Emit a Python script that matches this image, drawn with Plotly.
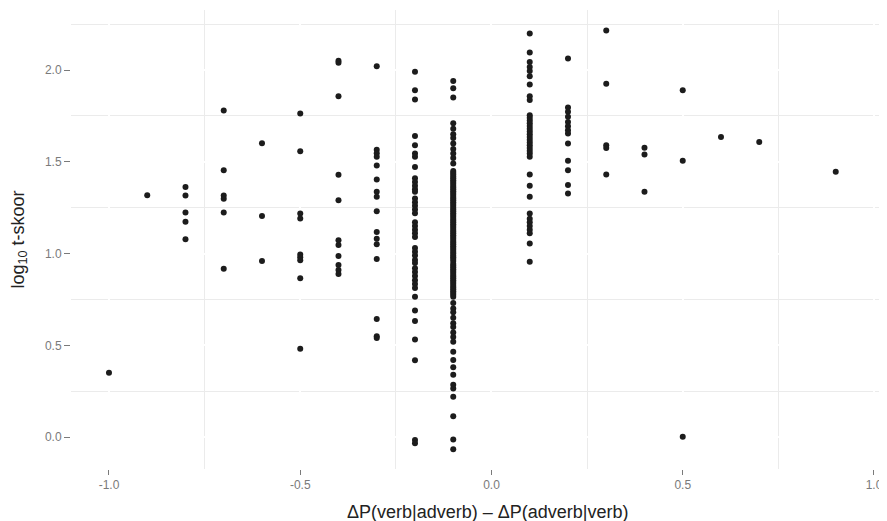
import plotly.graph_objects as go

# x positions of the point columns (ΔP difference)
x_cols = [-1.0, -0.9, -0.8, -0.7, -0.6, -0.5, -0.4, -0.3, -0.2, -0.1,
          0.1, 0.2, 0.3, 0.4, 0.5, 0.6, 0.7, 0.9]

# log10 t-scores per column
y_m10 = [0.35]
y_m09 = [1.318]
y_m08 = [1.362, 1.316, 1.224, 1.173, 1.078]
y_m07 = [1.779, 1.454, 1.316, 1.298, 1.224, 0.917]
y_m06 = [1.601, 1.205, 0.959]
y_m05 = [1.763, 1.558, 1.218, 1.191, 0.995, 0.98, 0.964, 0.866, 0.481]
y_m04 = [2.05, 2.04, 1.857, 1.429, 1.291, 1.073, 1.046, 0.986, 0.937, 0.91, 0.888]
y_m03 = [2.02, 1.565, 1.547, 1.527, 1.48, 1.404, 1.336, 1.31, 1.23, 1.118, 1.08,
         1.05, 0.97, 0.643, 0.55, 0.54]
y_m02 = [1.99, 1.89, 1.84, 1.64, 1.59, 1.545, 1.527, 1.472, 1.41, 1.39, 1.37, 1.35,
         1.336, 1.30, 1.28, 1.26, 1.24, 1.22, 1.17, 1.15, 1.13, 1.11, 1.09, 1.03,
         1.01, 0.99, 0.965, 0.948, 0.92, 0.90, 0.877, 0.855, 0.834, 0.812, 0.764,
         0.69, 0.633, 0.532, 0.419, -0.016, -0.034]
y_m01 = [1.94, 1.90, 1.85, 1.71, 1.68, 1.65, 1.63, 1.60, 1.57, 1.545, 1.52, 1.49,
         1.45, 1.44, 1.43, 1.42, 1.41, 1.40, 1.39, 1.38, 1.37, 1.36, 1.35, 1.34,
         1.33, 1.32, 1.31, 1.30, 1.29, 1.28, 1.27, 1.26, 1.25, 1.24, 1.23, 1.22,
         1.21, 1.20, 1.19, 1.18, 1.17, 1.16, 1.15, 1.14, 1.13, 1.12, 1.11, 1.10,
         1.09, 1.08, 1.07, 1.06, 1.05, 1.04, 1.03, 1.02, 1.01, 1.00, 0.99, 0.98,
         0.97, 0.96, 0.945, 0.935, 0.925, 0.915, 0.905, 0.895, 0.885, 0.875, 0.865,
         0.855, 0.845, 0.835, 0.825, 0.815, 0.805, 0.795, 0.785, 0.775, 0.765,
         0.73, 0.70, 0.68, 0.65, 0.62, 0.60, 0.57, 0.545, 0.52, 0.465, 0.42, 0.38,
         0.34, 0.285, 0.265, 0.22, 0.114, -0.013, -0.067]
y_p01 = [2.199, 2.095, 2.044, 2.017, 1.995, 1.966, 1.921, 1.857, 1.836,
         1.754, 1.74, 1.725, 1.71, 1.695, 1.68, 1.665, 1.65, 1.635, 1.62, 1.605,
         1.59, 1.575, 1.56, 1.545, 1.527, 1.431, 1.369, 1.309, 1.218, 1.19, 1.17,
         1.15, 1.13, 1.11, 1.055, 0.955]
y_p02 = [2.063, 1.796, 1.772, 1.745, 1.717, 1.694, 1.672, 1.654, 1.60, 1.505,
         1.454, 1.373, 1.327]
y_p03 = [2.215, 1.925, 1.59, 1.575, 1.431]
y_p04 = [1.576, 1.54, 1.336]
y_p05 = [1.89, 1.506, 0.002]
y_p06 = [1.635]
y_p07 = [1.608]
y_p09 = [1.445]

y_cols = [y_m10, y_m09, y_m08, y_m07, y_m06, y_m05, y_m04, y_m03, y_m02, y_m01,
          y_p01, y_p02, y_p03, y_p04, y_p05, y_p06, y_p07, y_p09]

xs, ys = [], []
for xv, yl in zip(x_cols, y_cols):
    xs += [xv] * len(yl)
    ys += yl

x_ticks = [-1.0, -0.5, 0.0, 0.5, 1.0]
x_ticklabels = ["-1.0", "-0.5", "0.0", "0.5", "1.0"]
y_ticks = [0.0, 0.5, 1.0, 1.5, 2.0]
y_ticklabels = ["0.0", "0.5", "1.0", "1.5", "2.0"]

x_title = "ΔP(verb|adverb) – ΔP(adverb|verb)"
y_title = "log<sub>10</sub> t-skoor"

fig = go.Figure()
fig.add_trace(go.Scatter(
    x=xs, y=ys, mode="markers",
    marker=dict(size=6, color="#1c1c1c", line=dict(width=0)),
    showlegend=False, hoverinfo="skip"))

font_family = "Liberation Sans, Arial, sans-serif"
axis_common = dict(
    showgrid=True, gridcolor="white", gridwidth=1.5,
    minor=dict(dtick=0.25, tick0=0.25, showgrid=True,
               gridcolor="#ebebeb", gridwidth=1.2, ticks=""),
    zeroline=False, showline=False, automargin=False,
    ticks="outside", tickwidth=1, tickcolor="#7a7a7a",
    tickfont=dict(size=12, color="#7a7a7a"),
)
# page body has an 8px default margin, so the figure is 8px smaller
fig.update_layout(
    width=879, height=513,
    margin=dict(l=63, r=0, t=2, b=52),
    paper_bgcolor="white", plot_bgcolor="white",
    font=dict(family=font_family),
    xaxis=dict(range=[-1.0993, 1.034], tickvals=x_ticks, ticktext=x_ticklabels,
               ticklen=5, **axis_common),
    yaxis=dict(range=[-0.174, 2.327], tickvals=y_ticks, ticktext=y_ticklabels,
               ticklen=6, **axis_common),
    annotations=[
        dict(text=x_title, xref="paper", yref="paper", x=0.5, y=0,
             xanchor="center", yanchor="middle", yshift=-43, xshift=9,
             showarrow=False, font=dict(size=18, color="#222222")),
        dict(text=y_title, xref="paper", yref="paper", x=0, y=0.5,
             xanchor="center", yanchor="middle", xshift=-52, textangle=-90,
             showarrow=False, font=dict(size=18, color="#222222")),
    ],
)

fig.write_html("out.html")
